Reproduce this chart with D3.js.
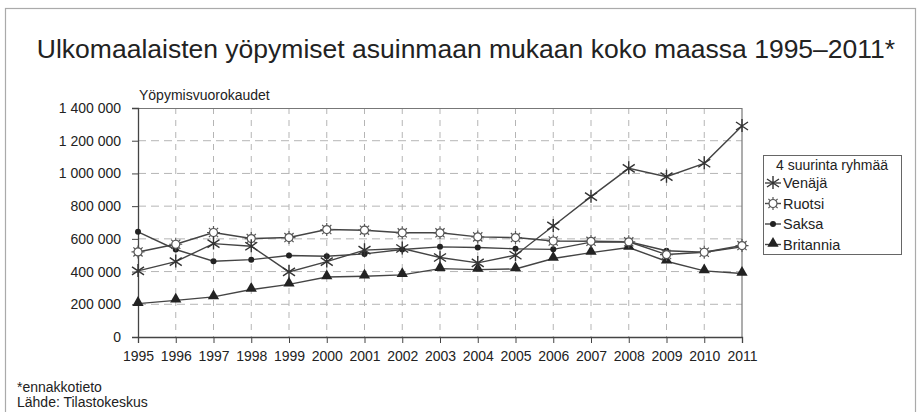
<!DOCTYPE html>
<html>
<head>
<meta charset="utf-8">
<script src="https://cdn.jsdelivr.net/npm/d3@7"></script>
<style>
body { margin: 0; background: #fff; }
svg { font-family: "Liberation Sans", Arial, sans-serif; }
</style>
</head>
<body>
<div id="chart"></div>
<script>
var years = [1995, 1996, 1997, 1998, 1999, 2000, 2001, 2002, 2003, 2004, 2005, 2006, 2007, 2008, 2009, 2010, 2011];
var venaja = [404000, 461000, 571000, 555000, 398000, 461000, 531000, 541000, 486000, 453000, 500000, 679000, 858000, 1031000, 980000, 1062000, 1290000];
var ruotsi = [520000, 567000, 639000, 602000, 608000, 657000, 653000, 637000, 637000, 612000, 608000, 587000, 585000, 582000, 504000, 518000, 559000];
var saksa = [643000, 535000, 463000, 473000, 498000, 494000, 508000, 535000, 551000, 547000, 539000, 536000, 580000, 582000, 527000, 518000, 551000];
var britannia = [204000, 224000, 245000, 290000, 322000, 367000, 371000, 380000, 418000, 412000, 416000, 480000, 516000, 547000, 463000, 404000, 388000];
var yTicks = [0, 200000, 400000, 600000, 800000, 1000000, 1200000, 1400000];

var series = [
    { name: "Venäjä", values: venaja, marker: "star" },
    { name: "Ruotsi", values: ruotsi, marker: "sun" },
    { name: "Saksa", values: saksa, marker: "dot" },
    { name: "Britannia", values: britannia, marker: "tri" }
];

var W = 924, H = 412;
var margin = { top: 108, right: 182, bottom: 75, left: 138 },
    width = W - margin.left - margin.right,
    height = H - margin.top - margin.bottom;

var svgRoot = d3.select("#chart")
    .append("svg")
    .attr("width", W)
    .attr("height", H);

// outer frame
svgRoot.append("rect")
    .attr("x", 5.5).attr("y", 8.5)
    .attr("width", 910).attr("height", 430)
    .attr("fill", "none")
    .attr("stroke", "#aaa")
    .attr("stroke-width", 1.2);

svgRoot.append("text")
    .attr("x", 466)
    .attr("y", 58)
    .attr("text-anchor", "middle")
    .style("font-size", "26.5px")
    .attr("fill", "#222")
    .text("Ulkomaalaisten yöpymiset asuinmaan mukaan koko maassa 1995–2011*");

var svg = svgRoot.append("g")
    .attr("transform", "translate(" + margin.left + "," + margin.top + ")");

var x = d3.scalePoint()
    .domain(years)
    .range([0, width]);

var y = d3.scaleLinear()
    .domain([0, 1400000])
    .range([height, 0]);

// grid
svg.selectAll(".hgrid")
    .data(yTicks.slice(1, -1))
    .enter()
    .append("line")
    .attr("x1", 0).attr("x2", width)
    .attr("y1", function (d) { return y(d); })
    .attr("y2", function (d) { return y(d); })
    .attr("stroke", "#b5b5b5")
    .attr("stroke-dasharray", "8,5");

svg.selectAll(".vgrid")
    .data(years.slice(1, -1))
    .enter()
    .append("line")
    .attr("x1", function (d) { return x(d); })
    .attr("x2", function (d) { return x(d); })
    .attr("y1", 0).attr("y2", height)
    .attr("stroke", "#b5b5b5")
    .attr("stroke-dasharray", "6,6");

// plot border top + right
svg.append("path")
    .attr("d", "M0,0.5H" + width + "V" + height)
    .attr("fill", "none")
    .attr("stroke", "#777")
    .attr("stroke-width", 1.2);

var fmt = function (d) { return d3.format(",")(d).replace(/,/g, " "); };

var yAxis = svg.append("g")
    .call(d3.axisLeft(y).tickValues(yTicks).tickFormat(fmt).tickSize(6).tickPadding(11));
var xAxis = svg.append("g")
    .attr("transform", "translate(0," + height + ")")
    .call(d3.axisBottom(x).tickSize(6).tickPadding(8));

[yAxis, xAxis].forEach(function (a) {
    a.select(".domain").attr("stroke", "#444").attr("stroke-width", 1.3);
    a.selectAll(".tick line").attr("stroke", "#444");
    a.selectAll("text").style("font-size", "14px").attr("fill", "#222")
        .style("font-family", "Liberation Sans, Arial, sans-serif");
});

svg.append("text")
    .attr("x", 1)
    .attr("y", -8)
    .style("font-size", "14px")
    .attr("fill", "#222")
    .text("Yöpymisvuorokaudet");

// markers
function drawMarker(g, type) {
    if (type === "star") {
        g.append("path")
            .attr("d", "M0,-7V6M-6,-4L6,4M-6,4L6,-4")
            .attr("stroke", "#333").attr("stroke-width", 1.4).attr("fill", "none");
    } else if (type === "sun") {
        var rays = "";
        for (var i = 0; i < 8; i++) {
            var a = i * Math.PI / 4;
            rays += "M" + (4 * Math.cos(a)) + "," + (4 * Math.sin(a)) + "L" + (6.5 * Math.cos(a)) + "," + (6.5 * Math.sin(a));
        }
        g.append("path").attr("d", rays).attr("stroke", "#555").attr("stroke-width", 1.2);
        g.append("circle").attr("r", 4).attr("fill", "#fff").attr("stroke", "#555").attr("stroke-width", 1.2);
    } else if (type === "dot") {
        g.append("circle").attr("r", 3).attr("fill", "#222");
    } else {
        g.append("path")
            .attr("d", d3.symbol().type(d3.symbolTriangle).size(55))
            .attr("transform", "translate(0,-1)")
            .attr("fill", "#222");
    }
}

var line = d3.line()
    .x(function (d, i) { return x(years[i]); })
    .y(function (d) { return y(d); });

series.slice().reverse().forEach(function (s) {
    svg.append("path")
        .datum(s.values)
        .attr("fill", "none")
        .attr("stroke", "#444")
        .attr("stroke-width", 1.4)
        .attr("d", line);
});

series.slice().reverse().forEach(function (s) {
    svg.selectAll(null)
        .data(s.values)
        .enter()
        .append("g")
        .attr("transform", function (d, i) { return "translate(" + x(years[i]) + "," + y(d) + ")"; })
        .each(function () { drawMarker(d3.select(this), s.marker); });
});

// legend
var legend = svgRoot.append("g").attr("transform", "translate(763,155)");
legend.append("rect")
    .attr("x", 0.5).attr("y", 0.5)
    .attr("width", 138).attr("height", 99)
    .attr("fill", "#fff")
    .attr("stroke", "#666");
legend.append("text")
    .attr("x", 69).attr("y", 15)
    .attr("text-anchor", "middle")
    .style("font-size", "14px")
    .attr("fill", "#222")
    .text("4 suurinta ryhmää");

var items = legend.selectAll(".item")
    .data(series)
    .enter()
    .append("g")
    .attr("transform", function (d, i) { return "translate(0," + (28 + i * 20.5) + ")"; });
items.append("line")
    .attr("x1", 2).attr("x2", 18)
    .attr("stroke", "#444").attr("stroke-width", 1.4);
items.each(function (d) {
    var g = d3.select(this).append("g").attr("transform", "translate(10,0)");
    drawMarker(g, d.marker);
});
items.append("text")
    .attr("x", 20)
    .attr("y", 5)
    .style("font-size", "14.5px")
    .attr("fill", "#222")
    .text(function (d) { return d.name; });

svgRoot.append("text")
    .attr("x", 17).attr("y", 392)
    .style("font-size", "14px")
    .attr("fill", "#222")
    .text("*ennakkotieto");
svgRoot.append("text")
    .attr("x", 17).attr("y", 407)
    .style("font-size", "14px")
    .attr("fill", "#222")
    .text("Lähde: Tilastokeskus");
</script>
</body>
</html>
